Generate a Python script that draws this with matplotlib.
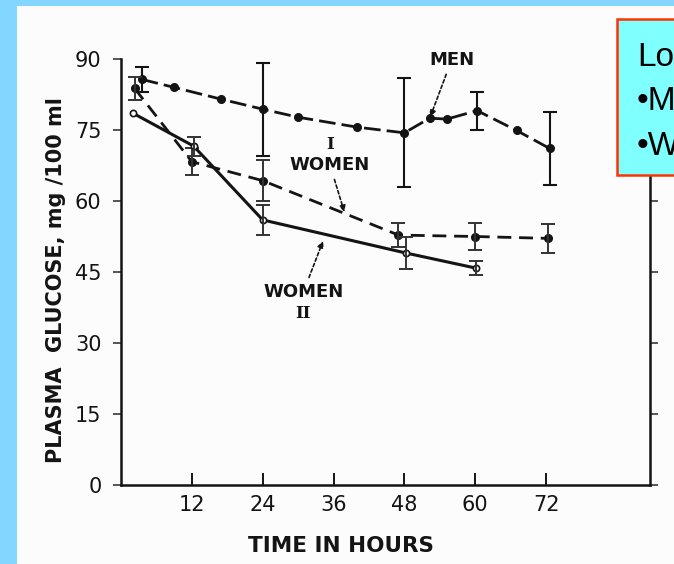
import numpy as np
import matplotlib
matplotlib.use("Agg")
import matplotlib.pyplot as plt
from matplotlib.patches import Rectangle

# plasma glucose (mg/100 ml) against hours of fasting
men_hours = [3.5, 9, 17, 24, 30, 40, 48, 52.3, 55.2, 60.3, 67, 72.6]
men_glucose = [85.7, 84.0, 81.5, 79.4, 77.7, 75.6, 74.4, 77.5, 77.3, 79.1, 74.9, 71.1]
men_sd = [2.6, np.nan, np.nan, 9.8, np.nan, np.nan, 11.5, np.nan, np.nan, 4.0, np.nan, 7.8]

women1_hours = [2.3, 12, 24, 47, 60, 72.4]
women1_glucose = [83.8, 68.3, 64.3, 52.8, 52.5, 52.1]
women1_sd = [2.5, 2.8, 4.3, 2.6, 2.8, 3.1]

women2_hours = [2.1, 12.3, 24, 48.3, 60.2]
women2_glucose = [78.5, 71.6, 56.0, 49.0, 45.8]
women2_sd = [np.nan, 2.0, 3.2, 3.3, 1.5]

x_ticks = [12, 24, 36, 48, 60, 72]
y_ticks = [0, 15, 30, 45, 60, 75, 90]

ink = "#141414"
W, H = 674, 564

fig = plt.figure(figsize=(W / 100, H / 100), dpi=100)
fig.patch.set_facecolor("#82D6FF")
# scanned page area
fig.add_artist(Rectangle((17 / W, 0), 1, (H - 6) / H, transform=fig.transFigure,
                         facecolor="#fcfcfc", edgecolor="none", zorder=-10))

ax = fig.add_axes([121 / W, 1 - 485 / H, 529 / W, 426 / H])
ax.set_facecolor("none")
ax.set_xlim(0, 89.6)
ax.set_ylim(0, 90)

for side in ["left", "right", "bottom"]:
    ax.spines[side].set_linewidth(1.8)
    ax.spines[side].set_color(ink)
ax.spines["top"].set_visible(False)

ax.set_xticks(x_ticks)
ax.set_yticks(y_ticks)
ax.tick_params(axis="x", direction="in", length=9, width=1.4, color=ink,
               labelsize=15, pad=7, labelcolor=ink)
ax.tick_params(axis="y", direction="out", length=6, width=1.4, color="#555555",
               labelsize=15, pad=8, labelcolor=ink, right=True)

# men: dashed line with dots
ax.plot(men_hours, men_glucose, color=ink, lw=2.0, dashes=(6, 2.2),
        marker="o", ms=5.5, mfc=ink, mec=ink)
ax.errorbar(men_hours, men_glucose, yerr=men_sd, fmt="none", ecolor=ink,
            elinewidth=1.5, capsize=5, capthick=1.5)

# women I: dashed line, filled dots
ax.plot(women1_hours, women1_glucose, color=ink, lw=2.0, dashes=(5, 2.8),
        marker="o", ms=5.5, mfc=ink, mec=ink)
ax.errorbar(women1_hours, women1_glucose, yerr=women1_sd, fmt="none", ecolor="#333333",
            elinewidth=1.4, capsize=5, capthick=1.4)

# women II: solid line, open circles
ax.plot(women2_hours, women2_glucose, color=ink, lw=2.2, ls="-",
        marker="o", ms=4.5, mfc="white", mec=ink, mew=1.2)
ax.errorbar(women2_hours, women2_glucose, yerr=women2_sd, fmt="none", ecolor="#333333",
            elinewidth=1.4, capsize=5, capthick=1.4)

arrow = dict(arrowstyle="-|>", color=ink, lw=1.2, ls=(0, (2, 1.5)),
             mutation_scale=9, shrinkA=2, shrinkB=1)
lab = dict(ha="center", va="center", fontsize=13, fontweight="bold", color=ink)
roman = dict(ha="center", va="center", fontsize=12, fontweight="bold",
             family="DejaVu Serif", color=ink)

ax.annotate("MEN", xy=(52.3, 77.5), xytext=(56, 89.8), arrowprops=arrow, **lab)
ax.annotate("WOMEN", xy=(37.9, 57.4), xytext=(35.4, 67.6), arrowprops=arrow, **lab)
ax.text(35.4, 72.0, "I", **roman)
ax.annotate("WOMEN", xy=(34.3, 51.8), xytext=(30.9, 40.8), arrowprops=arrow, **lab)
ax.text(30.9, 36.3, "II", **roman)

ax.set_xlabel("TIME IN HOURS", fontsize=15.5, fontweight="bold", color=ink, va="center")
ax.xaxis.set_label_coords(0.416, -0.143)
ax.set_ylabel("PLASMA  GLUCOSE, mg /100 ml", fontsize=15, fontweight="bold",
              color=ink, va="center")
ax.yaxis.set_label_coords(-0.123, 0.481)

# overlay text box from the slide, cut off at the right edge
fig.add_artist(Rectangle((617 / W, 1 - 175 / H), 0.2, 156 / H, transform=fig.transFigure,
                         facecolor="#80FFFF", edgecolor="#FF3300", lw=1.8, zorder=5))
for txt, base in [("Lo", 66), ("•M", 110), ("•W", 155)]:
    fig.text(637 / W, 1 - base / H, txt, family="Liberation Sans", fontsize=24,
             color="black", va="baseline", ha="left", zorder=6)

fig.savefig("out.png", dpi=100, facecolor=fig.get_facecolor())
